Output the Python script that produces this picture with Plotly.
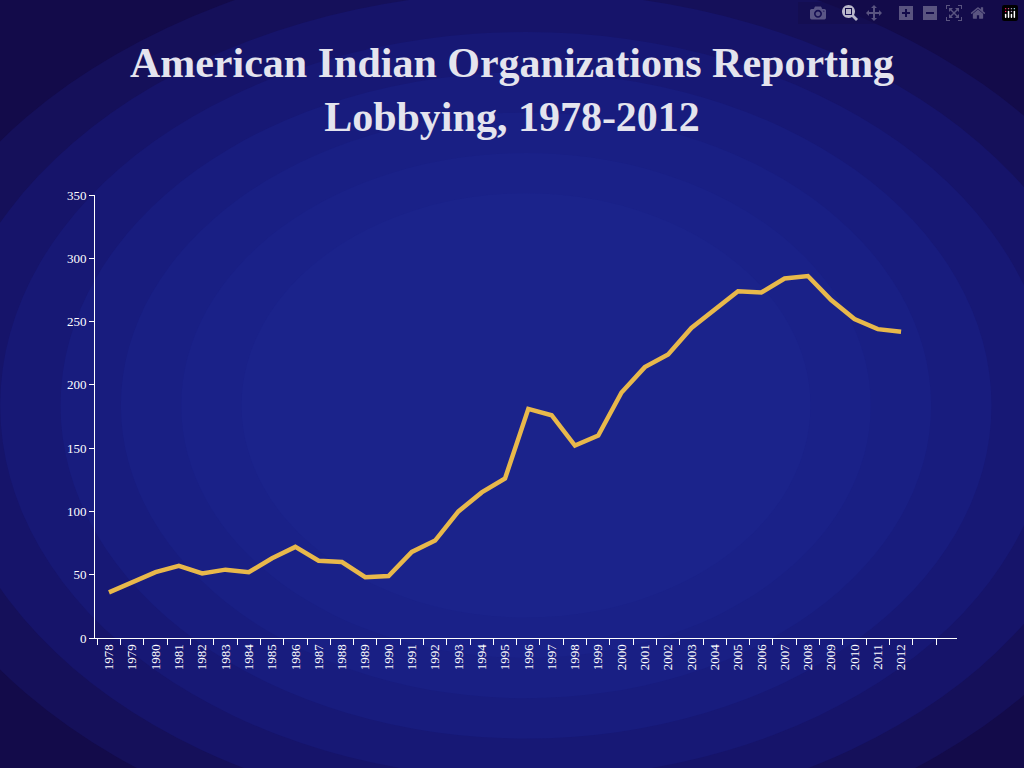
import plotly.graph_objects as go

years = list(range(1978, 2013))
orgs = [36, 44, 52, 57, 51, 54, 52, 63, 72, 61, 60, 48, 49, 68, 77, 100, 115, 126,
        181, 176, 152, 160, 194, 214, 224, 245, 259, 274, 273, 284, 286, 267, 252, 244, 242]
y_ticks = [0, 50, 100, 150, 200, 250, 300, 350]

fig = go.Figure()
fig.add_trace(go.Scatter(x=years, y=orgs, mode="lines",
                         line=dict(color="#E8B84B", width=4.5), showlegend=False))

# radial-ish background: concentric ellipses from outer to inner
rings = ["#15105A", "#16146A", "#171875", "#181C7E", "#191F84", "#1A2188", "#1B238B"]
for i, c in enumerate(rings):
    d = i * 0.07
    fig.add_shape(type="circle", xref="paper", yref="paper", layer="below",
                  x0=-0.25 + d, x1=1.25 - d, y0=-0.5 + d * 1.3, y1=1.55 - d * 1.3,
                  fillcolor=c, line=dict(width=0))

fig.update_layout(
    width=1024, height=768,
    paper_bgcolor="#130B4A", plot_bgcolor="rgba(0,0,0,0)",
    margin=dict(l=95, r=67, t=195, b=130),
    title=dict(text="<b>American Indian Organizations Reporting<br>Lobbying, 1978-2012</b>",
               x=0.5, xanchor="center", y=0.9, yanchor="top",
               font=dict(family="Liberation Serif", size=42, color="#E4E4EE")),
    font=dict(family="Liberation Serif", color="white", size=13),
)
fig.update_xaxes(range=[1977.4, 2014.4], tickvals=years, tickangle=-90,
                 showgrid=False, zeroline=False, showline=True, linecolor="white",
                 ticks="", minor=dict(ticks="outside", tick0=1977.5, dtick=1,
                                      ticklen=6, tickcolor="white", showgrid=False),
                 tickfont=dict(size=13, color="white"))
fig.update_yaxes(range=[0, 350], tickvals=y_ticks, showgrid=False, zeroline=False,
                 showline=True, linecolor="white", ticks="outside", ticklen=5,
                 tickcolor="white", tickfont=dict(size=13, color="white"))

fig.write_html("out.html",
               post_script="document.body.style.margin='0';document.body.style.overflow='hidden';")
